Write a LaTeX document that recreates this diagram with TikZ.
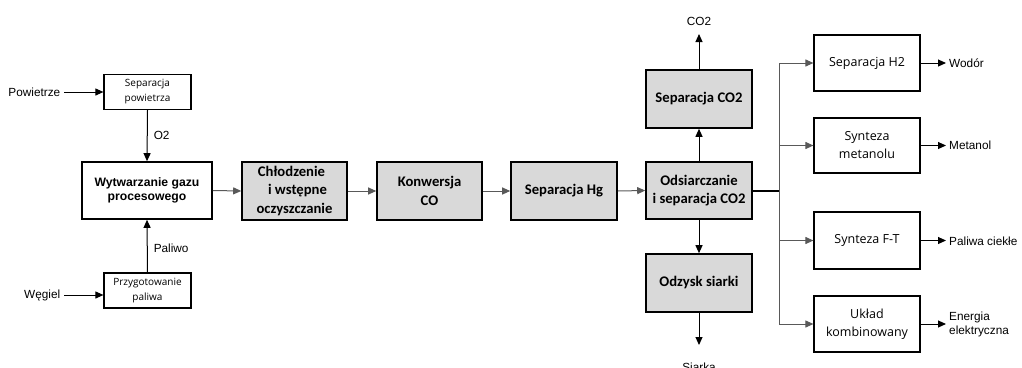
\documentclass[tikz,border=0pt]{standalone}
\usepackage{fontspec}
\setmainfont{Liberation Sans}
\newfontfamily\calfont{Carlito}
\newfontfamily\segfont{Open Sans}
\usetikzlibrary{arrows.meta}
\definecolor{boxgray}{HTML}{D9D9D9}
\definecolor{linegray}{HTML}{595959}
\begin{document}
\begin{tikzpicture}[x=1pt,y=-1pt,
  graybox/.style={draw=black,line width=1.6pt,fill=boxgray,inner sep=1pt,align=center,
     font=\calfont\bfseries\fontsize{14.67}{18.5}\selectfont,minimum width=106pt,minimum height=57pt},
  whitebox/.style={draw=black,line width=1.2pt,fill=white,inner sep=1pt,align=center,
     font=\segfont\fontsize{12.5}{18}\selectfont,minimum width=106pt,minimum height=56pt},
  smallbox/.style={draw=black,line width=1.2pt,fill=white,inner sep=1pt,align=center,
     font=\segfont\fontsize{10}{15}\selectfont,minimum width=87pt,minimum height=35pt},
  lbl/.style={font=\fontsize{11.8}{13}\selectfont,inner sep=0pt},
  arr/.style={line width=1pt,-{Triangle[length=8pt,width=7pt]}},
  garr/.style={arr,draw=linegray},
]
\useasboundingbox (0,0) rectangle (1022,367);

% left inputs
\node[smallbox] (sp) at (147.5,92) {Separacja\\powietrza};
\node[smallbox] (pp) at (147.5,290.5) {Przygotowanie\\paliwa};
\node[draw=black,line width=1.6pt,fill=white,align=center,inner sep=1pt,
  font=\bfseries\fontsize{12.2}{14.5}\selectfont,minimum width=130pt,minimum height=57pt]
  (wg) at (147,190.5) {Wytwarzanie gazu\\procesowego};

\node[lbl,anchor=east] (pow) at (60.5,92) {Powietrze};
\node[lbl,anchor=east] (weg) at (60.5,295) {Węgiel};
\coordinate (powE) at (64,92);
\coordinate (wegE) at (64,295);
\draw[arr] (powE) -- (sp.west);
\draw[arr] (wegE) -- (wegE -| pp.west);

\draw[arr] (sp.south) -- node[lbl,right=6pt] {O2} (wg.north);
\draw[arr] (pp.north) -- node[lbl,right=6pt,pos=0.45] {Paliwo} (wg.south);

% main chain
\node[graybox,minimum width=105pt,minimum height=58pt] (ch) at (294.5,191)
  {Chłodzenie\hspace*{6pt}\\\hspace*{6pt}i wstępne\\oczyszczanie};
\node[graybox,minimum width=105pt,minimum height=58pt] (ko) at (429.5,191) {Konwersja\\CO};
\node[graybox,minimum height=58pt] (hg) at (564,191) {Separacja Hg};
\node[graybox] (od) at (699,190.5) {Odsiarczanie\\i separacja CO2};
\node[graybox,minimum height=58pt] (sc) at (699,99) {Separacja CO2};
\node[graybox,minimum height=58pt] (os) at (699,283) {Odzysk siarki};

\draw[garr] (wg.east) -- (ch.west);
\draw[garr] (ch.east) -- (ko.west);
\draw[garr] (ko.east) -- (hg.west);
\draw[garr] (hg.east) -- (od.west);

\draw[arr] (od.north) -- (sc.south);
\draw[arr] (od.south) -- (os.north);
\coordinate (co2end) at (699,34);
\coordinate (siend) at (699,345);
\draw[arr] (sc.north) -- (co2end);
\draw[arr] (os.south) -- (siend);
\node[lbl,anchor=base] (co2) at (699,25.5) {CO2};
\node[lbl,anchor=north] (sia) at (699,362.5) {Siarka};

% right branches
\node[whitebox] (h2) at (867,63) {Separacja H2};
\node[whitebox,minimum height=55pt] (me) at (867,145.5) {Synteza\\metanolu};
\node[whitebox,minimum height=57pt] (ft) at (867,240.5) {Synteza F-T};
\node[whitebox] (uk) at (867,324) {Układ\\kombinowany};

\coordinate (bus) at (779,190.5);
\coordinate (busT) at (779,63);
\coordinate (busB) at (779,324);
\draw[line width=2pt] (od.east) -- (bus);
\draw[line width=1pt,draw=linegray] (busT) -- (busB);
\draw[arr,draw=linegray] (busT) -- (h2.west);
\draw[arr,draw=linegray] (779,145.5) -- (me.west);
\draw[arr,draw=linegray] (779,240.5) -- (ft.west);
\draw[arr,draw=linegray] (busB) -- (uk.west);

\coordinate (e1) at (946,63);
\coordinate (e2) at (946,145.5);
\coordinate (e3) at (946,240.5);
\coordinate (e4) at (946,324);
\draw[arr] (h2.east) -- (e1);
\draw[arr] (me.east) -- (e2);
\draw[arr] (ft.east) -- (e3);
\draw[arr] (uk.east) -- (e4);
\node[lbl,anchor=west] (wo) at (949,63) {Wodór};
\node[lbl,anchor=west] (mt) at (949,145.5) {Metanol};
\node[lbl,anchor=west] (pc) at (949,241) {Paliwa ciekłe};
\node[lbl,anchor=west,align=left,font=\fontsize{11.8}{14}\selectfont] (ee) at (949,324) {Energia\\elektryczna};
\end{tikzpicture}
\end{document}
